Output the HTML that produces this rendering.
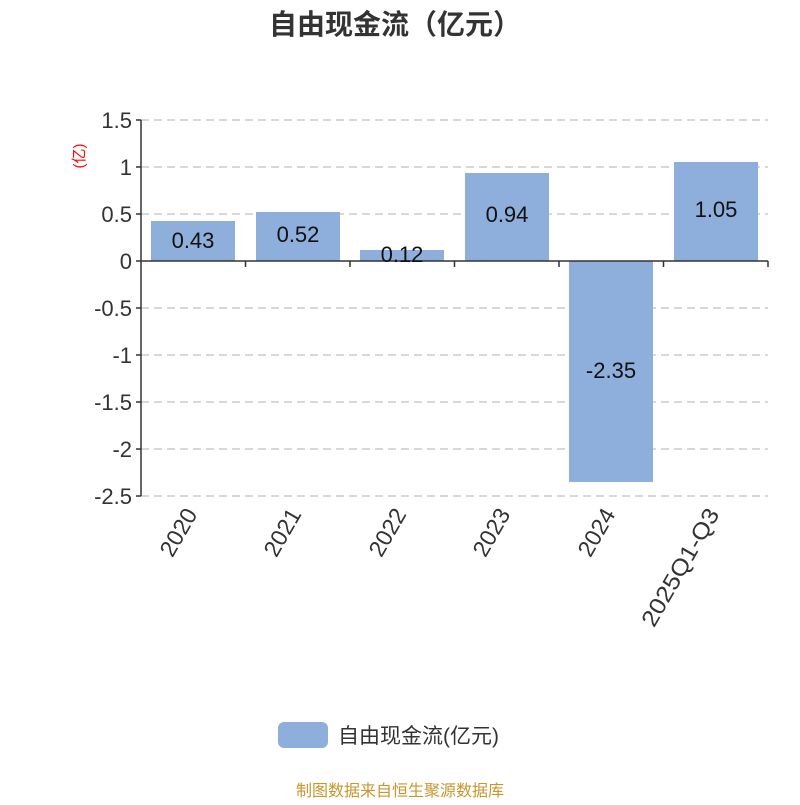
<!DOCTYPE html>
<html><head><meta charset="utf-8"><style>
body{margin:0;background:#fff}
text{font-family:"Liberation Sans","Noto Sans CJK SC",sans-serif}
</style></head><body>
<svg width="800" height="800" xmlns="http://www.w3.org/2000/svg">
<text x="395" y="34" text-anchor="middle" font-size="28" font-weight="bold" fill="#333">自由现金流（亿元）</text>
<g stroke="#ccc" stroke-dasharray="8,5" stroke-width="1.5">
<line x1="141" y1="120" x2="768" y2="120"/><line x1="141" y1="167" x2="768" y2="167"/>
<line x1="141" y1="214" x2="768" y2="214"/><line x1="141" y1="308" x2="768" y2="308"/>
<line x1="141" y1="355" x2="768" y2="355"/><line x1="141" y1="402" x2="768" y2="402"/>
<line x1="141" y1="449" x2="768" y2="449"/><line x1="141" y1="496" x2="768" y2="496"/>
</g>
<g fill="#8eaedb">
<rect x="151" y="221" width="84" height="40"/>
<rect x="256" y="212" width="84" height="49"/>
<rect x="360" y="250" width="84" height="11"/>
<rect x="465" y="173" width="84" height="88"/>
<rect x="569" y="261" width="84" height="221"/>
<rect x="674" y="162" width="84" height="99"/>
</g>
<g stroke="#333" stroke-width="1.5">
<line x1="141" y1="120" x2="141" y2="496"/>
<line x1="141" y1="261" x2="768" y2="261"/>
<line x1="136" y1="120" x2="141" y2="120"/><line x1="136" y1="167" x2="141" y2="167"/>
<line x1="136" y1="214" x2="141" y2="214"/><line x1="136" y1="261" x2="141" y2="261"/>
<line x1="136" y1="308" x2="141" y2="308"/><line x1="136" y1="355" x2="141" y2="355"/>
<line x1="136" y1="402" x2="141" y2="402"/><line x1="136" y1="449" x2="141" y2="449"/>
<line x1="136" y1="496" x2="141" y2="496"/>
<line x1="245.5" y1="261" x2="245.5" y2="267"/><line x1="350" y1="261" x2="350" y2="267"/>
<line x1="454.5" y1="261" x2="454.5" y2="267"/><line x1="559" y1="261" x2="559" y2="267"/>
<line x1="663.5" y1="261" x2="663.5" y2="267"/><line x1="768" y1="261" x2="768" y2="267"/>
</g>
<g font-size="22" fill="#333" text-anchor="end">
<text x="132" y="128">1.5</text><text x="132" y="175">1</text><text x="132" y="222">0.5</text>
<text x="132" y="269">0</text><text x="132" y="316">-0.5</text><text x="132" y="363">-1</text>
<text x="132" y="410">-1.5</text><text x="132" y="457">-2</text><text x="132" y="504">-2.5</text>
</g>
<text transform="translate(84,156) rotate(-90)" font-size="15" fill="red" text-anchor="middle">(亿)</text>
<g font-size="22" fill="#111" text-anchor="middle">
<text x="193" y="248">0.43</text><text x="298" y="242">0.52</text><text x="402" y="262">0.12</text>
<text x="507" y="222">0.94</text><text x="611" y="378">-2.35</text><text x="716" y="217">1.05</text>
</g>
<g font-size="23" fill="#333" text-anchor="end">
<text transform="translate(198,514) rotate(-60)">2020</text>
<text transform="translate(302,514) rotate(-60)">2021</text>
<text transform="translate(407,514) rotate(-60)">2022</text>
<text transform="translate(511,514) rotate(-60)">2023</text>
<text transform="translate(616,514) rotate(-60)">2024</text>
<text transform="translate(720,514) rotate(-60)" textLength="132" lengthAdjust="spacingAndGlyphs">2025Q1-Q3</text>
</g>
<rect x="278" y="722" width="50" height="26" rx="6" fill="#8eaedb"/>
<text x="338" y="743" font-size="21" fill="#333">自由现金流(亿元)</text>
<text x="400" y="796" font-size="16" fill="#c8962e" text-anchor="middle">制图数据来自恒生聚源数据库</text>
</svg>
</body></html>
